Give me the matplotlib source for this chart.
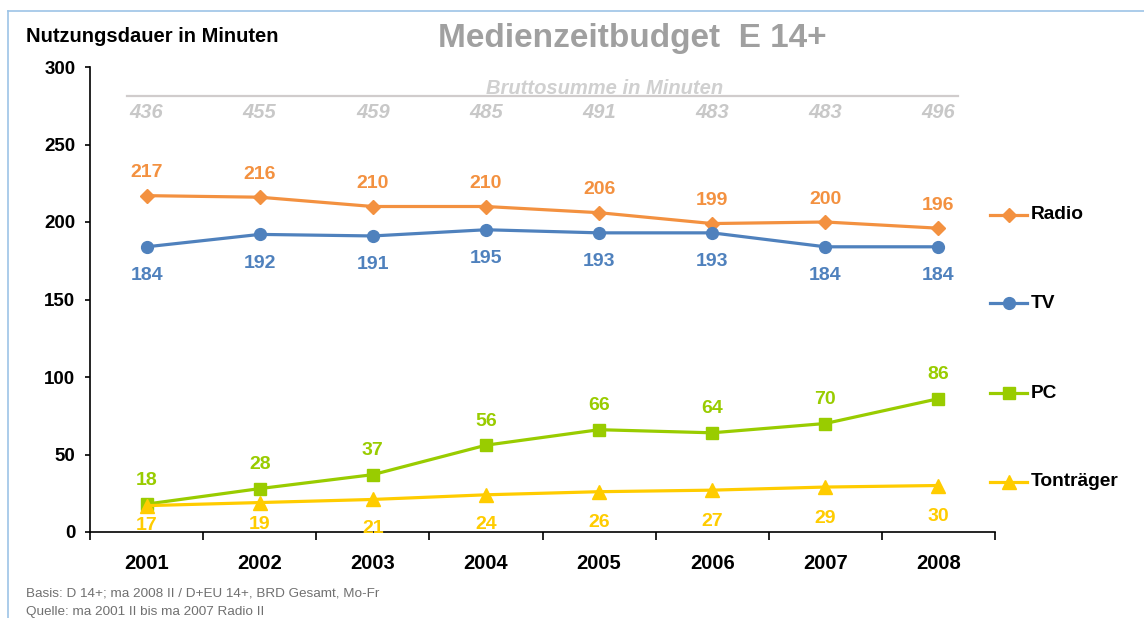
import matplotlib
matplotlib.use("Agg")
import matplotlib.pyplot as plt
from matplotlib.lines import Line2D

plt.rcParams['font.family'] = ['Liberation Sans', 'DejaVu Sans']

years = ["2001", "2002", "2003", "2004", "2005", "2006", "2007", "2008"]
radio = [217, 216, 210, 210, 206, 199, 200, 196]
tv = [184, 192, 191, 195, 193, 193, 184, 184]
pc = [18, 28, 37, 56, 66, 64, 70, 86]
tontraeger = [17, 19, 21, 24, 26, 27, 29, 30]
brutto = [436, 455, 459, 485, 491, 483, 483, 496]

# label offsets in pixels (positive = above point)
off_radio = [23] * 8
off_tv = [-29] * 8
off_pc = [24] * 8
off_ton = [-20, -22, -29, -30, -31, -31, -31, -31]

series = [
    ("Radio", radio, "#F39140", "D", 7.5, off_radio),
    ("TV", tv, "#4F81BD", "o", 8.5, off_tv),
    ("PC", pc, "#99CC00", "s", 8.5, off_pc),
    ("Tonträger", tontraeger, "#FFCC00", "^", 9.5, off_ton),
]

W, H = 1144, 618
PX = 72 / 100  # points per pixel
fig = plt.figure(figsize=(W / 100, H / 100), dpi=100)
fig.patch.set_facecolor("white")

# light blue frame
fig.add_artist(Line2D([8 / W, 8 / W], [0, 1 - 11 / H], color="#9DC3E6", lw=1.2))
fig.add_artist(Line2D([8 / W, 1], [1 - 11 / H, 1 - 11 / H], color="#9DC3E6", lw=1.2))

ax = fig.add_axes([90 / W, 1 - 532 / H, (995 - 90) / W, (532 - 67) / H])
x = list(range(len(years)))
ax.set_xlim(-0.5, len(years) - 0.5)
ax.set_ylim(0, 300)

for name, vals, col, mk, ms, offs in series:
    ax.plot(x, vals, color=col, lw=2.3, marker=mk, ms=ms, zorder=3)
    for xi, v, o in zip(x, vals, offs):
        ax.annotate(str(v), (xi, v), xytext=(0, o * PX), textcoords="offset points",
                    ha="center", va="center", fontsize=14, fontweight="bold", color=col)

ax.spines["top"].set_visible(False)
ax.spines["right"].set_visible(False)
ax.spines["left"].set_linewidth(1.2)
ax.spines["bottom"].set_linewidth(1.2)
ax.set_yticks([0, 50, 100, 150, 200, 250, 300])
ax.set_yticklabels(["0", "50", "100", "150", "200", "250", "300"], fontsize=13.5, fontweight="bold")
ax.tick_params(axis="y", direction="out", length=3.6, width=1.2, pad=7)
ax.set_xticks([i - 0.5 for i in range(len(years) + 1)], minor=False)
ax.set_xticklabels([""] * (len(years) + 1))
ax.tick_params(axis="x", direction="out", length=6, width=1.2)
ax.set_xticks(x, minor=True)
ax.set_xticklabels(years, minor=True, fontsize=14.5, fontweight="bold")
ax.tick_params(axis="x", which="minor", length=0, pad=16)

# Bruttosumme
bx = ax.get_xaxis_transform()
line_y = 0.9376
ax.plot([-0.17, 7.17], [line_y, line_y], transform=bx, color="#D0CCCC", lw=1.6, clip_on=False)
ax.text(4.05, line_y + 0.004, "Bruttosumme in Minuten", transform=bx, ha="center", va="baseline",
        fontsize=14.5, fontweight="bold", style="italic", color="#D0D0D0")
for xi, b in zip(x, brutto):
    ax.text(xi, 0.903, str(b), transform=bx, ha="center", va="center",
            fontsize=14.5, fontweight="bold", style="italic", color="#C8C8C8")

# Titles
fig.text(632 / W, 1 - 38 / H, "Medienzeitbudget  E 14+", ha="center", va="center",
         fontsize=24, fontweight="bold", color="#A0A0A0")
fig.text(26 / W, 1 - 37 / H, "Nutzungsdauer in Minuten", ha="left", va="center",
         fontsize=14.5, fontweight="bold", color="black")

# Footnotes
fig.text(26 / W, 1 - 593 / H, "Basis: D 14+; ma 2008 II / D+EU 14+, BRD Gesamt, Mo-Fr",
         ha="left", va="center", fontsize=9.7, color="#707070")
fig.text(26 / W, 1 - 612 / H, "Quelle: ma 2001 II bis ma 2007 Radio II",
         ha="left", va="center", fontsize=9.7, color="#707070")

# Legend
leg_y = [215, 303, 393, 482]
for (name, vals, col, mk, ms, offs), ly in zip(series, leg_y):
    yy = 1 - ly / H
    fig.add_artist(Line2D([990 / W, 1027 / W], [yy, yy], color=col, lw=2.3))
    fig.add_artist(Line2D([1008.5 / W], [yy], color=col, marker=mk, ms=ms, lw=0))
    fig.text(1031 / W, yy, name, ha="left", va="center", fontsize=13.8, fontweight="bold", color="black")

fig.savefig("out.png", dpi=100)
